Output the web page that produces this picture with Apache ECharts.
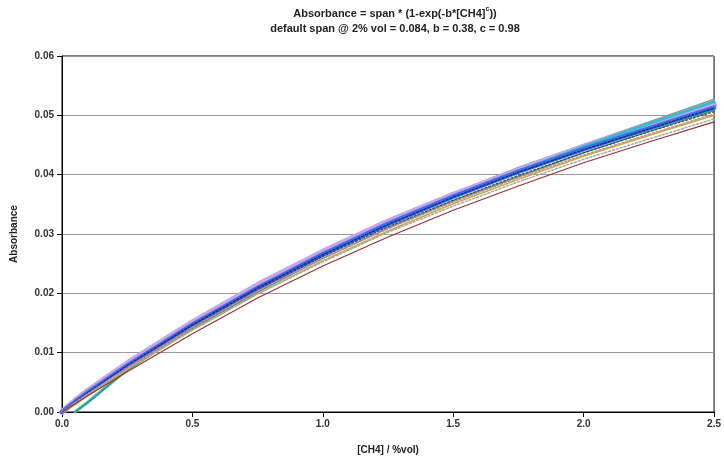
<!DOCTYPE html>
<html>
<head>
<meta charset="utf-8">
<script src="https://cdn.jsdelivr.net/npm/echarts@6/dist/echarts.min.js"></script>
<style>html,body{margin:0;padding:0;background:#fff}#c{width:724px;height:466px}</style>
</head>
<body>
<div id="c"></div>
<script>
// concentrations [CH4] %vol
var xs = [0, 0.05, 0.1, 0.25, 0.5, 0.75, 1.0, 1.25, 1.5, 1.75, 2.0, 2.25, 2.5];
// absorbance curves
var greyTop   = [0, 0.0017, 0.0034, 0.0080, 0.0150, 0.0214, 0.0271, 0.0323, 0.0369, 0.0412, 0.0451, 0.0489, 0.0527];
var teal      = [null, 0, 0.0017, 0.0072, 0.0143, 0.0207, 0.0264, 0.0316, 0.0363, 0.0406, 0.0447, 0.0486, 0.0523];
var purple    = [0, 0.0019, 0.0036, 0.0082, 0.0151, 0.0214, 0.0270, 0.0321, 0.0366, 0.0407, 0.0447, 0.0483, 0.0518];
var blue      = [0, 0.0017, 0.0033, 0.0078, 0.0147, 0.0209, 0.0266, 0.0317, 0.0363, 0.0405, 0.0443, 0.0478, 0.0513];
var navyDots  = [0, 0.0017, 0.0033, 0.0078, 0.0147, 0.0209, 0.0265, 0.0316, 0.0362, 0.0404, 0.0442, 0.0477, 0.0512];
var green     = [null, 0, 0.0016, 0.0070, 0.0140, 0.0202, 0.0259, 0.0310, 0.0356, 0.0397, 0.0437, 0.0473, 0.0508];
var blackDots = [0, 0.0016, 0.0032, 0.0076, 0.0145, 0.0206, 0.0262, 0.0312, 0.0357, 0.0399, 0.0437, 0.0472, 0.0506];
var pinkDots  = [0, 0.0016, 0.0031, 0.0075, 0.0143, 0.0204, 0.0259, 0.0309, 0.0354, 0.0395, 0.0433, 0.0468, 0.0502];
var olive     = [0, 0.0012, 0.0028, 0.0072, 0.0138, 0.0199, 0.0255, 0.0305, 0.0351, 0.0392, 0.0431, 0.0466, 0.0500];
var greyLow   = [0, 0.0015, 0.0030, 0.0073, 0.0139, 0.0199, 0.0253, 0.0303, 0.0347, 0.0388, 0.0426, 0.0460, 0.0494];
var darkRed   = [0, 0.0014, 0.0028, 0.0068, 0.0132, 0.0192, 0.0246, 0.0295, 0.0340, 0.0381, 0.0420, 0.0455, 0.0489];

function pairs(ys){ return xs.map(function(x,i){ return [x, ys[i]]; }); }
function line(name, ys, color, width, type){
  return {name:name, type:'line', data:pairs(ys), showSymbol:false, symbol:'none', smooth:false,
    connectNulls:false, silent:true,
    lineStyle:{color:color, width:width, type:type||'solid', join:'round', cap:'round'}};
}
var F = '"Liberation Sans", Arial, sans-serif';
var chart = echarts.init(document.getElementById('c'), null, {renderer:'canvas'});
chart.setOption({
  animation:false,
  backgroundColor:'#fff',
  title:{
    left:390, top:1, textAlign:'center',
    text:'{a|Absorbance = span * (1-exp(-b*[CH4]}{s|c}{a|))}\n{a|default span @ 2% vol = 0.084, b = 0.38, c = 0.98}',
    textStyle:{fontFamily:F, fontSize:11, fontWeight:'bold', color:'#222', lineHeight:15,
      rich:{a:{fontFamily:F, fontSize:11, fontWeight:'bold', color:'#222', lineHeight:15},
            s:{fontFamily:F, fontSize:7, fontWeight:'bold', color:'#222', verticalAlign:'top', lineHeight:15, padding:[0,0,5,0]}}}
  },
  grid:{left:62, right:8, top:56, bottom:54, show:true, borderColor:'#000', borderWidth:1, backgroundColor:'transparent'},
  xAxis:{type:'value', min:0, max:2.5, interval:0.5,
    name:'[CH4] / %vol)', nameLocation:'middle', nameGap:33,
    nameTextStyle:{fontFamily:F, fontSize:10, fontWeight:'bold', color:'#222'},
    axisLine:{lineStyle:{color:'#000', width:1}},
    axisTick:{show:true, length:5, inside:false, lineStyle:{color:'#000'}},
    axisLabel:{fontFamily:F, fontSize:10, fontWeight:'bold', color:'#333', margin:7,
      formatter:function(v){return v.toFixed(1);}},
    splitLine:{show:false}},
  yAxis:{type:'value', min:0, max:0.06, interval:0.01,
    name:'Absorbance', nameLocation:'middle', nameGap:43, nameRotate:90,
    nameTextStyle:{fontFamily:F, fontSize:10, fontWeight:'bold', color:'#222'},
    axisLine:{show:true, lineStyle:{color:'#000', width:1}},
    axisTick:{show:true, length:5, lineStyle:{color:'#000'}},
    axisLabel:{fontFamily:F, fontSize:10, fontWeight:'bold', color:'#333', margin:8,
      formatter:function(v){return v.toFixed(2);}},
    splitLine:{show:true, lineStyle:{color:'#9a9a9a', width:1}}},
  series:[
    line('grey top', greyTop, '#8c9a9a', 1.5),
    line('purple', purple, '#c7a4f2', 6),
    line('teal', teal, '#3ab8cc', 3),
    line('blue', blue, '#3a70e6', 4.5),
    line('navy', navyDots, '#1a2a99', 1.5, [2,2]),
    line('green', green, '#3a9a6a', 1.5),
    line('black', blackDots, '#333333', 1, [2,2]),
    line('pink', pinkDots, '#e07a9a', 1.5, [2,2]),
    line('olive', olive, '#b8b04a', 1.5),
    line('grey low', greyLow, '#a8a8a8', 1.5, [2,2]),
    line('dark red', darkRed, '#993333', 1.2)
  ]
});
</script>
</body>
</html>
